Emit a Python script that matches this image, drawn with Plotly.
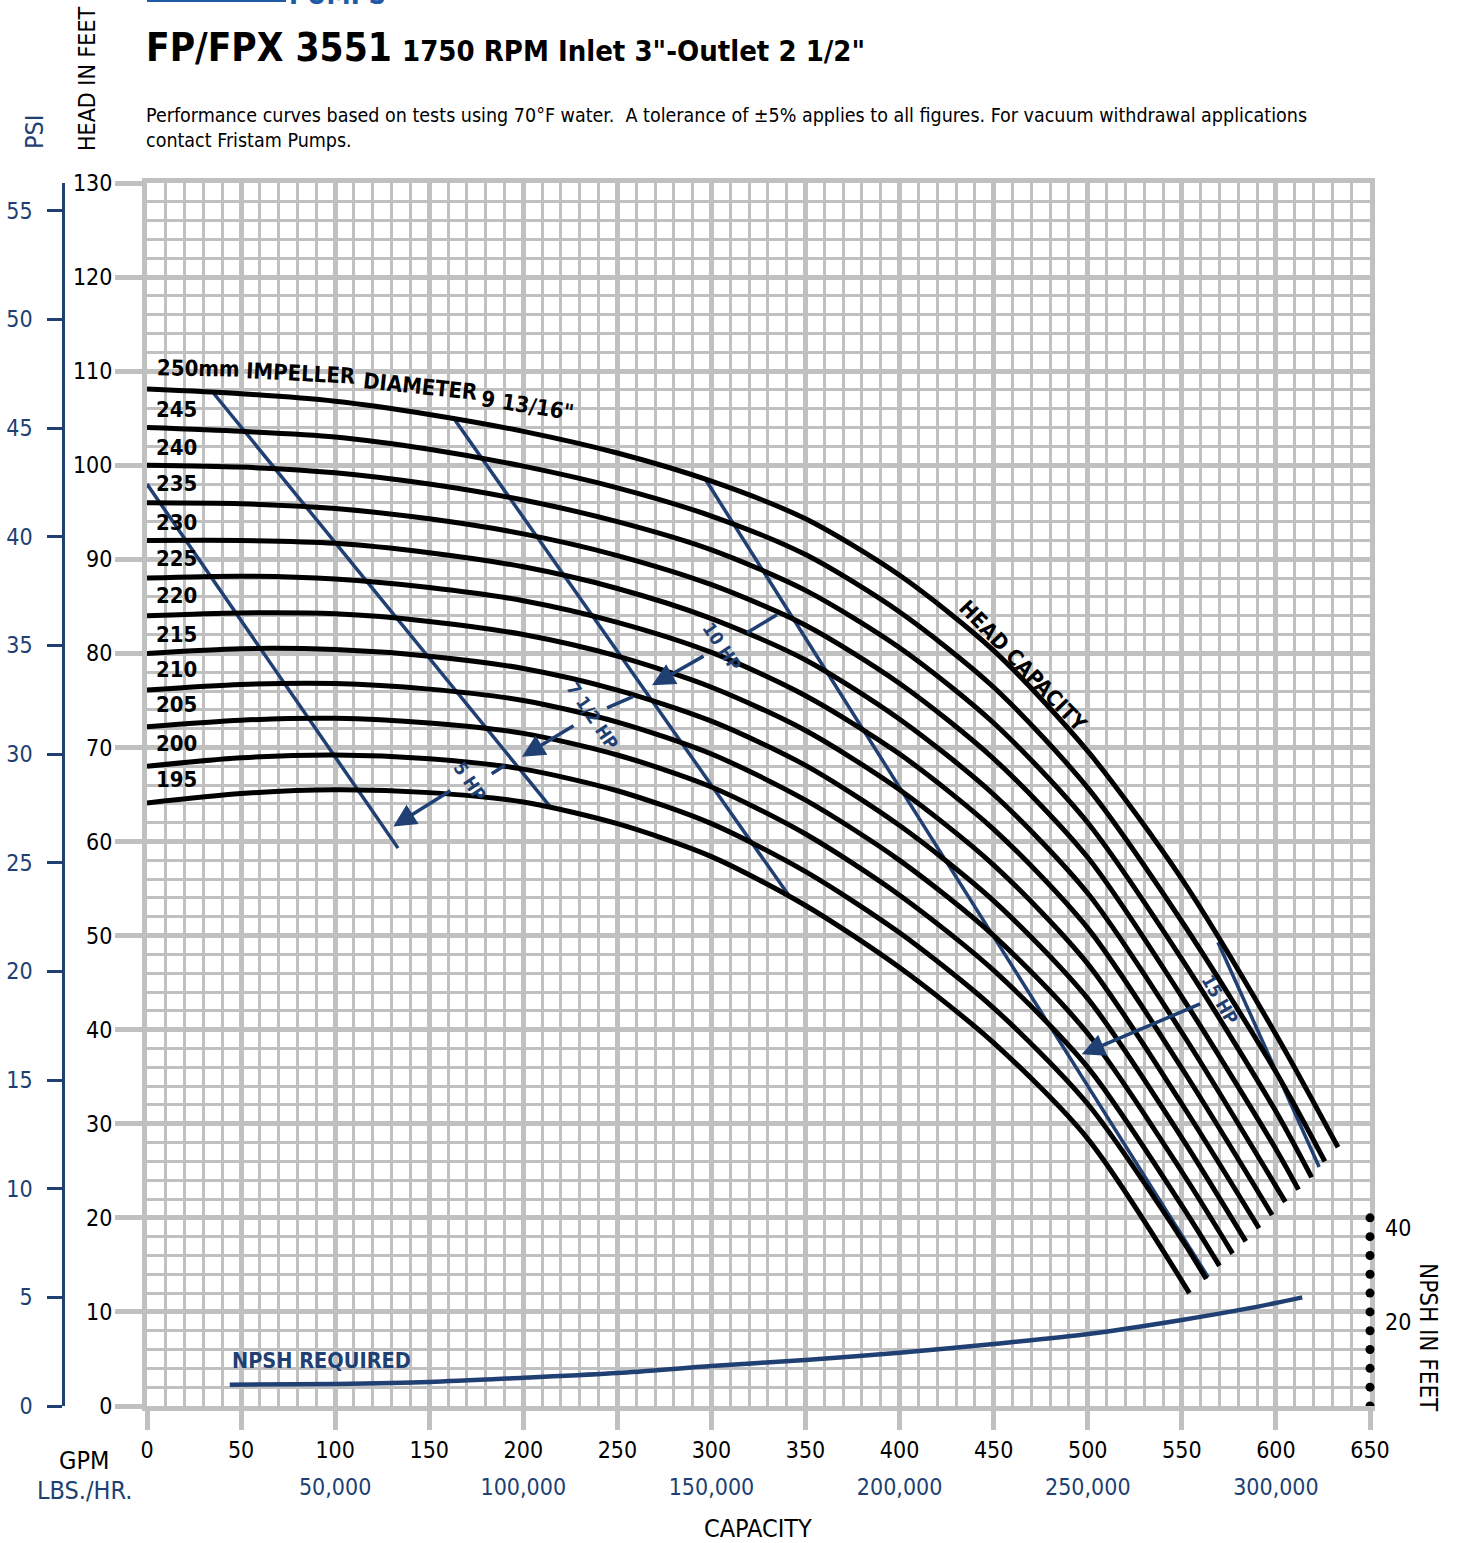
import plotly.graph_objects as go

FONT = "Liberation Sans Narrow, DejaVu Sans Condensed, Roboto, sans-serif"
BLUE = "#203f72"
GRID = "#c0c0c0"
BLACK = "#000000"

# ---------------- data ----------------
diameters = [250, 245, 240, 235, 230, 225, 220, 215, 210, 205, 200, 195]

gpm_250 = [0, 50, 100, 150, 200, 250, 300, 350, 400, 450, 500, 550, 600, 633]
head_250 = [108.1, 107.6, 106.8, 105.4, 103.6, 101.3, 98.3, 94.3, 88.3, 80.3, 69.6, 56.0, 39.5, 27.5]
gpm_245 = [0, 50, 100, 150, 200, 250, 300, 350, 400, 450, 500, 550, 600, 626]
head_245 = [104.0, 103.6, 103.0, 101.7, 99.9, 97.6, 94.6, 90.5, 84.4, 76.4, 65.7, 51.5, 35.5, 26.0]
gpm_240 = [0, 50, 100, 150, 200, 250, 300, 350, 400, 450, 500, 550, 600, 619]
head_240 = [100.0, 99.8, 99.2, 98.0, 96.3, 94.0, 91.0, 86.7, 80.6, 72.6, 62.0, 47.5, 31.3, 24.3]
gpm_235 = [0, 50, 100, 150, 200, 250, 300, 350, 400, 450, 500, 550, 600, 612]
head_235 = [96.0, 95.9, 95.4, 94.3, 92.7, 90.4, 87.3, 83.0, 76.8, 68.8, 58.3, 43.5, 27.3, 23.0]
gpm_230 = [0, 50, 100, 150, 200, 250, 300, 350, 400, 450, 500, 550, 605]
head_230 = [92.0, 92.0, 91.7, 90.7, 89.2, 86.9, 83.7, 79.3, 73.0, 65.0, 54.5, 39.7, 21.7]
gpm_225 = [0, 50, 100, 150, 200, 250, 300, 350, 400, 450, 500, 550, 598]
head_225 = [88.0, 88.2, 87.9, 87.0, 85.6, 83.3, 80.1, 75.5, 69.3, 61.3, 50.8, 35.9, 20.3]
gpm_220 = [0, 50, 100, 150, 200, 250, 300, 350, 400, 450, 500, 550, 591]
head_220 = [84.0, 84.3, 84.2, 83.4, 82.0, 79.7, 76.4, 71.8, 65.5, 57.5, 47.0, 32.1, 18.9]
gpm_215 = [0, 50, 100, 150, 200, 250, 300, 350, 400, 450, 500, 550, 584]
head_215 = [80.0, 80.5, 80.4, 79.7, 78.4, 76.1, 72.8, 68.1, 61.7, 53.7, 43.3, 28.5, 17.5]
gpm_210 = [0, 50, 100, 150, 200, 250, 300, 350, 400, 450, 500, 550, 577]
head_210 = [76.1, 76.7, 76.8, 76.2, 75.0, 72.7, 69.3, 64.4, 58.0, 50.0, 39.6, 24.9, 16.2]
gpm_205 = [0, 50, 100, 150, 200, 250, 300, 350, 400, 450, 500, 550, 570]
head_205 = [72.2, 72.9, 73.1, 72.6, 71.5, 69.2, 65.8, 60.8, 54.3, 46.3, 36.0, 21.3, 14.9]
gpm_200 = [0, 50, 100, 150, 200, 250, 300, 350, 400, 450, 500, 550, 563]
head_200 = [68.0, 68.9, 69.2, 68.8, 67.7, 65.4, 61.9, 56.8, 50.3, 42.3, 32.1, 17.7, 13.5]
gpm_195 = [0, 50, 100, 150, 200, 250, 300, 350, 400, 450, 500, 554]
head_195 = [64.1, 65.1, 65.5, 65.2, 64.2, 61.9, 58.4, 53.2, 46.6, 38.6, 28.4, 12.0]

# NPSH required (feet of NPSH, right-hand scale)
npsh_gpm = [44, 100, 150, 200, 250, 300, 350, 400, 450, 500, 550, 586, 614]
npsh_ft = [4.5, 4.7, 5.1, 6.0, 7.0, 8.5, 9.8, 11.3, 13.2, 15.3, 18.3, 20.8, 23.1]
npsh_dots = [0, 4, 8, 12, 16, 20, 24, 28, 32, 36, 40]
npsh_ticks = [20, 40]

# horsepower limit lines (GPM, head ft)
hp_line_gpm = [[0, 133.4], [35.6, 214.7], [163.0, 341.7], [297.1, 564.0], [569.2, 623.0]]
hp_line_head = [[98.0, 59.3], [107.6, 63.6], [105.0, 54.1], [98.4, 13.7], [49.3, 25.4]]

hp_labels = ["5 HP", "7 1/2 HP", "10 HP", "15 HP"]
hp_label_gpm = [171.7, 237.0, 305.6, 570.3]
hp_label_head = [66.4, 73.3, 80.7, 43.2]
hp_label_angle = [56, 56, 56, 60]
# first (plain) segment of each pointer, then arrow tail -> tip
hp_seg_gpm = [[190.3, 183.2], [258.3, 244.5], [334.8, 318.9], None]
hp_seg_head = [[68.1, 67.2], [75.4, 74.2], [84.1, 82.2], None]
hp_arrow_tail_gpm = [162.0, 227.5, 296.6, 560.5]
hp_arrow_tail_head = [65.5, 72.4, 79.8, 42.8]
hp_arrow_tip_gpm = [130.9, 199.3, 268.4, 496.8]
hp_arrow_tip_head = [61.6, 69.0, 76.6, 37.4]

lbs_gpm = [100, 200, 300, 400, 500, 600]
lbs_text = ["50,000", "100,000", "150,000", "200,000", "250,000", "300,000"]

PSI_PER_FT = 1 / 2.31

curves = {
    250: (gpm_250, head_250), 245: (gpm_245, head_245), 240: (gpm_240, head_240),
    235: (gpm_235, head_235), 230: (gpm_230, head_230), 225: (gpm_225, head_225),
    220: (gpm_220, head_220), 215: (gpm_215, head_215), 210: (gpm_210, head_210),
    205: (gpm_205, head_205), 200: (gpm_200, head_200), 195: (gpm_195, head_195),
}

# ---------------- geometry helpers (pixel -> paper) ----------------
FIG_W, FIG_H = 1457, 1543
ML, MR, MT, MB = 0, 87, 183, 137
PW = FIG_W - ML - MR          # 1370
PH = FIG_H - MT - MB          # 1223
X_DOM0 = 147 / PW


def px(x):
    return (x - ML) / PW


def py(y):
    return (FIG_H - MB - y) / PH


fig = go.Figure()

# HP lines (drawn under the black curves)
for gx, hy in zip(hp_line_gpm, hp_line_head):
    fig.add_trace(go.Scatter(x=gx, y=hy, mode="lines",
                             line=dict(color=BLUE, width=3.5),
                             hoverinfo="skip", showlegend=False))

# head-capacity curves
for d in diameters:
    gx, hy = curves[d]
    fig.add_trace(go.Scatter(x=gx, y=hy, mode="lines", name=f"{d} mm",
                             line=dict(color=BLACK, width=5, shape="spline", smoothing=0.8),
                             showlegend=False))

# NPSH curve
fig.add_trace(go.Scatter(x=npsh_gpm, y=npsh_ft, mode="lines", yaxis="y2",
                         line=dict(color=BLUE, width=4.5, shape="spline", smoothing=0.8),
                         showlegend=False, name="NPSH"))
# dummy traces so the auxiliary axes are drawn
fig.add_trace(go.Scatter(x=[0], y=[0], xaxis="x2", yaxis="y", mode="markers",
                         marker=dict(opacity=0), hoverinfo="skip", showlegend=False))
fig.add_trace(go.Scatter(x=[0], y=[0], xaxis="x", yaxis="y3", mode="markers",
                         marker=dict(opacity=0), hoverinfo="skip", showlegend=False))

annotations = []
shapes = []

# NPSH scale dots on the right border (placed on the NPSH axis)
for v in npsh_dots:
    shapes.append(dict(type="circle", xref="paper", yref="y2",
                       xsizemode="pixel", ysizemode="pixel",
                       xanchor=1.0, yanchor=v, x0=-4.5, x1=4.5, y0=-4.5, y1=4.5,
                       fillcolor=BLACK, line=dict(width=0), layer="above"))


def text(t, x, y, size, color=BLACK, bold=False, angle=0, xanchor="center",
         yanchor="middle", xref="paper", yref="paper", align="center"):
    if bold:
        t = f"<b>{t}</b>"
    annotations.append(dict(text=t, x=x, y=y, xref=xref, yref=yref, showarrow=False,
                            font=dict(family=FONT, size=size, color=color),
                            textangle=angle, xanchor=xanchor, yanchor=yanchor, align=align))


# titles
text("FP/FPX 3551", px(144), py(47), 38.5, bold=True, xanchor="left")
text('1750 RPM Inlet 3"-Outlet 2 1/2"', px(400), py(51), 29, bold=True, xanchor="left")
text("Performance curves based on tests using 70°F water.  A tolerance of ±5% applies to all figures. "
     "For vacuum withdrawal applications<br>contact Fristam Pumps.",
     px(144), py(128), 19.5, xanchor="left", align="left")
text("PUMPS", px(287), py(12), 27, color="#1f5aa6", bold=True, xanchor="left", yanchor="bottom")
shapes.append(dict(type="line", xref="paper", yref="paper", x0=px(147), x1=px(286),
                   y0=py(0.5), y1=py(0.5), line=dict(color="#1f5aa6", width=3)))

# axis titles
text("HEAD IN FEET", px(87), py(79), 23, angle=-90)
text("PSI", px(35), py(132), 25, color=BLUE, angle=-90)
text("NPSH IN FEET", px(1428), py(1337), 24, angle=90)
text("GPM", px(84), py(1460), 25)
text("LBS./HR.", px(84), py(1491), 25, color=BLUE)
text("CAPACITY", px(758), py(1528), 25)

# curve labels
text("250mm", 4.3, 110.3, 22, bold=True, xanchor="left", xref="x", yref="y", angle=1)
text("IMPELLER", 51.2, 109.7, 22, bold=True, xanchor="left", xref="x", yref="y", angle=3)
text("DIAMETER", 112.9, 108.4, 22, bold=True, xanchor="left", xref="x", yref="y", angle=6)
text('9 13/16"', 175.5, 106.4, 22, bold=True, xanchor="left", xref="x", yref="y", angle=9)
label_y_px = [409, 447, 483, 522, 558, 595, 634, 669, 704, 743, 779]
for d, ypx in zip(diameters[1:], label_y_px):
    text(str(d), px(154), py(ypx), 22, bold=True, xanchor="left")
text("HEAD CAPACITY", px(1024), py(666), 21.5, bold=True, angle=46)
text("NPSH REQUIRED", px(230), py(1360), 21.5, color=BLUE, bold=True, xanchor="left")

# HP labels and pointers
for i, lab in enumerate(hp_labels):
    text(lab, hp_label_gpm[i], hp_label_head[i], 18, color=BLUE, bold=True,
         angle=hp_label_angle[i], xref="x", yref="y")
    if hp_seg_gpm[i] is not None:
        shapes.append(dict(type="line", xref="x", yref="y",
                           x0=hp_seg_gpm[i][0], y0=hp_seg_head[i][0],
                           x1=hp_seg_gpm[i][1], y1=hp_seg_head[i][1],
                           line=dict(color=BLUE, width=3.5)))
    annotations.append(dict(x=hp_arrow_tip_gpm[i], y=hp_arrow_tip_head[i],
                            ax=hp_arrow_tail_gpm[i], ay=hp_arrow_tail_head[i],
                            xref="x", yref="y", axref="x", ayref="y", text="",
                            showarrow=True, arrowhead=2, arrowsize=1.3, arrowwidth=3.5,
                            arrowcolor=BLUE, standoff=0, startstandoff=0))

tick_font = dict(family=FONT, size=23, color=BLACK)

fig.update_layout(
    width=FIG_W, height=FIG_H, autosize=False,
    margin=dict(l=ML, r=MR, t=MT, b=MB, pad=0, autoexpand=False),
    paper_bgcolor="white", plot_bgcolor="white",
    showlegend=False,
    annotations=annotations, shapes=shapes,
    xaxis=dict(domain=[X_DOM0, 1], range=[0, 650], dtick=50, tick0=0,
               showgrid=True, gridcolor=GRID, gridwidth=5,
               minor=dict(dtick=10, showgrid=True, gridcolor=GRID, gridwidth=2.5, ticks=""),
               showline=True, mirror=True, linecolor=GRID, linewidth=5,
               ticks="outside", ticklen=19, tickwidth=5, tickcolor=GRID,
               tickfont=tick_font, ticklabelstandoff=0, zeroline=False, fixedrange=True,
               automargin=False),
    xaxis2=dict(domain=[X_DOM0, 1], range=[0, 650], overlaying="x", anchor="y", side="bottom",
                tickvals=lbs_gpm, ticktext=lbs_text, ticks="", showgrid=False, showline=False,
                zeroline=False, tickfont=dict(family=FONT, size=23, color=BLUE),
                ticklabelstandoff=65, automargin=False),
    yaxis=dict(range=[0, 130], dtick=10, tick0=0,
               showgrid=True, gridcolor=GRID, gridwidth=5,
               minor=dict(dtick=2, showgrid=True, gridcolor=GRID, gridwidth=2.5, ticks=""),
               showline=True, mirror=True, linecolor=GRID, linewidth=5,
               ticks="outside", ticklen=27, tickwidth=5, tickcolor=GRID,
               tickfont=tick_font, ticklabelstandoff=-2, zeroline=False, fixedrange=True,
               automargin=False),
    yaxis2=dict(range=[0, 260], overlaying="y", side="right", anchor="x",
                tickvals=npsh_ticks, ticktext=[str(v) for v in npsh_ticks],
                ticks="", showgrid=False, showline=False, zeroline=False,
                tickfont=tick_font, ticklabelstandoff=14, ticklabelshift=10, automargin=False),
    yaxis3=dict(range=[0, 130 * PSI_PER_FT], overlaying="y", anchor="free",
                position=px(63), side="left", dtick=5, tick0=0,
                ticks="outside", ticklen=15, tickwidth=2.5, tickcolor=BLUE,
                showline=True, linecolor=BLUE, linewidth=2.5, showgrid=False, zeroline=False,
                tickfont=dict(family=FONT, size=23, color=BLUE), ticklabelstandoff=10,
                automargin=False),
)

fig.write_html("out.html", config={"displayModeBar": False},
               post_script="document.body.style.margin='0px';document.body.style.overflow='hidden';")
